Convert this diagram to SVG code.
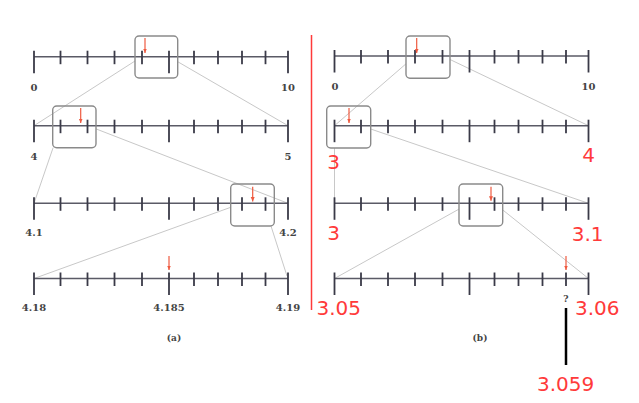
<svg xmlns="http://www.w3.org/2000/svg" xmlns:xlink="http://www.w3.org/1999/xlink" width="639" height="403" viewBox="0 0 639 403">
<style>
.axis{stroke:#5a5a66;stroke-width:1.5;fill:none}
.tick{stroke:#3a3a48;stroke-width:1.8}
.box{fill:none;stroke:#8a8a8a;stroke-width:1.4}
.conn{stroke:#c8c8c8;stroke-width:1;fill:none}
.arr{stroke:#ee5a40;stroke-width:1.2;fill:none}
.lbl{font-family:"DejaVu Serif",serif;font-weight:bold;font-size:10px;fill:#444;text-anchor:middle}
.cap{font-family:"DejaVu Serif",serif;font-weight:bold;font-size:9px;fill:#444;text-anchor:middle}
.red{font-family:"DejaVu Sans",sans-serif;font-size:20px;fill:#ff3a3a}
</style>
<defs>
<marker id="ah" markerUnits="userSpaceOnUse" markerWidth="5" markerHeight="5" refX="4.5" refY="2.5" orient="auto">
<path d="M0,0.5 L4.5,2.5 L0,4.5 z" fill="#ee5a40"/>
</marker>
<g id="nl">
<line class="axis" x1="0" y1="0" x2="254" y2="0"/>
<line class="tick" x1="0" y1="-6" x2="0" y2="16.5"/>
<line class="tick" x1="26.5" y1="-6" x2="26.5" y2="7.5"/>
<line class="tick" x1="53.5" y1="-6" x2="53.5" y2="7.5"/>
<line class="tick" x1="80.5" y1="-6" x2="80.5" y2="7.5"/>
<line class="tick" x1="108" y1="-6" x2="108" y2="7.5"/>
<line class="tick" x1="135" y1="-6" x2="135" y2="16.5"/>
<line class="tick" x1="160" y1="-6" x2="160" y2="7.5"/>
<line class="tick" x1="184" y1="-6" x2="184" y2="7.5"/>
<line class="tick" x1="208" y1="-6" x2="208" y2="7.5"/>
<line class="tick" x1="231.5" y1="-6" x2="231.5" y2="7.5"/>
<line class="tick" x1="254" y1="-6" x2="254" y2="16.5"/>
</g>
</defs>
<rect width="639" height="403" fill="#fff"/>
<g id="connectors">
<line class="conn" x1="135" y1="61" x2="34" y2="125.7"/>
<line class="conn" x1="177.7" y1="61.7" x2="288" y2="125.7"/>
<line class="conn" x1="53.1" y1="147.7" x2="34" y2="203.3"/>
<line class="conn" x1="96" y1="128.9" x2="288" y2="203.3"/>
<line class="conn" x1="230.7" y1="207.3" x2="34" y2="278.5"/>
<line class="conn" x1="271" y1="226" x2="287" y2="276"/>
<line class="conn" x1="406" y1="63.8" x2="334.5" y2="125.7"/>
<line class="conn" x1="450" y1="59.5" x2="588.5" y2="125.7"/>
<line class="conn" x1="334.5" y1="148" x2="334.5" y2="203.3"/>
<line class="conn" x1="370.7" y1="129" x2="588.5" y2="203.3"/>
<line class="conn" x1="459" y1="209.1" x2="334.5" y2="278.5"/>
<line class="conn" x1="502.7" y1="209.9" x2="588.5" y2="278.5"/>
<line x1="311.5" y1="35" x2="311.5" y2="310" stroke="#ff3a3a" stroke-width="1.5"/>
<line x1="566" y1="308" x2="566" y2="365" stroke="#000" stroke-width="2.5"/>
</g>
<g id="panel-a">
<g id="a1">
<use xlink:href="#nl" x="34" y="56.7"/>
<rect class="box" x="135" y="36" width="42.7" height="42" rx="4"/>
<line class="arr" x1="145" y1="38" x2="145" y2="53" marker-end="url(#ah)"/>
<text class="lbl" x="34" y="90.5">0</text>
<text class="lbl" x="288" y="90.5">10</text>
</g>
<g id="a2">
<use xlink:href="#nl" x="34" y="125.7"/>
<rect class="box" x="52.7" y="106" width="43.3" height="41.7" rx="4"/>
<line class="arr" x1="80.7" y1="108" x2="80.7" y2="123" marker-end="url(#ah)"/>
<text class="lbl" x="34" y="159.5">4</text>
<text class="lbl" x="288" y="159.5">5</text>
</g>
<g id="a3">
<use xlink:href="#nl" x="34" y="203.3"/>
<rect class="box" x="230.7" y="184" width="43.6" height="42" rx="4"/>
<line class="arr" x1="252.7" y1="186.7" x2="252.7" y2="201.5" marker-end="url(#ah)"/>
<text class="lbl" x="34" y="236">4.1</text>
<text class="lbl" x="288" y="236">4.2</text>
</g>
<g id="a4">
<use xlink:href="#nl" x="34" y="278.5"/>
<line class="arr" x1="169" y1="256" x2="169" y2="270" marker-end="url(#ah)"/>
<text class="lbl" x="34" y="311">4.18</text>
<text class="lbl" x="169" y="311">4.185</text>
<text class="lbl" x="288" y="311">4.19</text>
</g>
<text class="cap" x="174" y="341">(a)</text>
</g>
<g id="panel-b">
<g id="b1">
<use xlink:href="#nl" x="334.5" y="56"/>
<rect class="box" x="406" y="36" width="44" height="42.3" rx="4"/>
<line class="arr" x1="416.7" y1="38" x2="416.7" y2="53" marker-end="url(#ah)"/>
<text class="lbl" x="335" y="90">0</text>
<text class="lbl" x="588.5" y="90">10</text>
</g>
<g id="b2">
<use xlink:href="#nl" x="334.5" y="125.7"/>
<rect class="box" x="326.7" y="106" width="44" height="42" rx="4"/>
<line class="arr" x1="349" y1="108" x2="349" y2="123" marker-end="url(#ah)"/>
<text class="red" x="333.5" y="169" text-anchor="middle">3</text>
<text class="red" x="588.5" y="161.7" text-anchor="middle">4</text>
</g>
<g id="b3">
<use xlink:href="#nl" x="334.5" y="203.3"/>
<rect class="box" x="459" y="184" width="43.7" height="42" rx="4"/>
<line class="arr" x1="491" y1="186.7" x2="491" y2="200.7" marker-end="url(#ah)"/>
<text class="red" x="333.5" y="239.5" text-anchor="middle">3</text>
<text class="red" x="587.7" y="240.5" text-anchor="middle">3.1</text>
</g>
<g id="b4">
<use xlink:href="#nl" x="334.5" y="278.5"/>
<line class="arr" x1="566" y1="256" x2="566" y2="270" marker-end="url(#ah)"/>
<text class="cap" x="566" y="302">?</text>
<text class="red" x="316.5" y="315">3.05</text>
<text class="red" x="575" y="315">3.06</text>
</g>
<text class="red" x="537" y="390.5">3.059</text>
<text class="cap" x="480" y="341">(b)</text>
</g>
</svg>
